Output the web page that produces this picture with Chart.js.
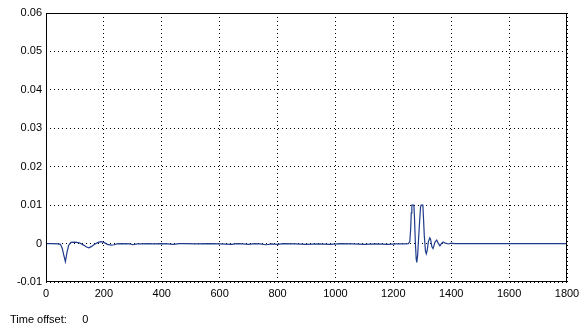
<!DOCTYPE html>
<html>
<head>
<meta charset="utf-8">
<script src="https://cdn.jsdelivr.net/npm/chart.js@4.4.0/dist/chart.umd.min.js"></script>
<style>
  body { margin: 0; background: #fff; }
  #wrap { position: relative; width: 587px; height: 328px; }
  #offset { position: absolute; left: 10px; top: 313px; font: 11px "Liberation Sans", Arial, sans-serif; color: #000; white-space: pre; }
</style>
</head>
<body>
<div id="wrap">
  <canvas id="scope" width="587" height="328"></canvas>
  <div id="offset">Time offset:     0</div>
</div>
<script>
// time axis (samples) and signal values
const timeVals = [0, 20, 40, 50, 56, 62, 67, 72, 78, 86, 100, 115, 130, 140, 148, 156, 168, 180, 190, 200,
    212, 225, 235, 245, 260, 290, 300, 315, 330, 350, 370, 400, 420, 440, 460, 480, 520, 560, 600, 640,
    660, 680, 700, 720, 740, 760, 780, 800, 820, 860, 900, 940, 980, 1020, 1060, 1100, 1140, 1180, 1210, 1240,
    1252, 1257, 1260, 1262, 1264, 1271, 1273, 1276, 1279, 1281, 1284, 1287, 1291, 1294, 1296, 1302, 1304, 1307, 1311, 1314, 1317, 1321,
    1326, 1329, 1333, 1337, 1340, 1344, 1350, 1355, 1361, 1366, 1372, 1380, 1390, 1400, 1410, 1800];
const signalVals = [0, 0, -0.0001, -0.0002, -0.0012, -0.0032, -0.0047, -0.0025, -0.0005, 0.0003, 0.0004, 0.0002, -0.0004, -0.0009, -0.0011, -0.0008, -0.0002, 0.0003, 0.0005, 0.0003,
    -0.0002, -0.0004, -0.0003, -0.0001, 0, -0.0001, -0.0003, -0.0001, -0.0001, 0, -0.0001, 0, -0.0001, -0.0002, 0, 0, -0.0001, 0, -0.0001, -0.0002,
    0, -0.0001, -0.0002, 0, -0.0001, -0.0003, -0.0001, -0.0002, 0, -0.0001, -0.0002, -0.0001, -0.0002, 0, -0.0001, -0.0002, -0.0001, -0.0002, -0.0001, -0.0001,
    0, 0.0005, 0.004, 0.008, 0.01, 0.01, 0.007, 0.0005, -0.004, -0.0049, -0.003, 0.001, 0.006, 0.0095, 0.01, 0.01, 0.007, 0.002, -0.002, -0.0027, -0.0018, 0.0005,
    0.0015, 0.001, -0.0008, -0.0013, -0.0006, 0.0004, 0.0009, 0.0001, -0.0006, 0, 0.0004, 0.0001, -0.0001, 0.0001, 0, 0];
const yTickLabels = ["-0.01", "0", "0.01", "0.02", "0.03", "0.04", "0.05", "0.06"];
const xTickLabels = ["0", "200", "400", "600", "800", "1000", "1200", "1400", "1600", "1800"];

const points = timeVals.map(function (t, i) {
    return { x: t, y: signalVals[i] };
});

// MATLAB-style box round the axes
const boxPlugin = {
    id: "box",
    afterDatasetsDraw(chart) {
        const a = chart.chartArea;
        const ctx = chart.ctx;
        ctx.save();
        ctx.strokeStyle = "#000";
        ctx.lineWidth = 1;
        ctx.strokeRect(Math.round(a.left) + 0.5, Math.round(a.top) + 0.5,
            Math.round(a.right - a.left) - 1, Math.round(a.bottom - a.top) - 1);
        ctx.restore();
    }
};

const tickFont = { family: "'Liberation Sans', Arial, sans-serif", size: 11 };

new Chart(document.getElementById("scope"), {
    type: "line",
    data: {
        datasets: [{
            data: points,
            borderColor: "#1f3c8c",
            borderWidth: 1.2,
            pointRadius: 0,
            tension: 0,
            fill: false
        }]
    },
    options: {
        responsive: false,
        animation: false,
        layout: { padding: { top: 13, right: 20, bottom: 0, left: 0 } },
        plugins: { legend: { display: false }, tooltip: { enabled: false } },
        scales: {
            x: {
                type: "linear",
                min: 0,
                max: 1800,
                afterFit: function (s) { s.height = 46; },
                ticks: {
                    stepSize: 200,
                    color: "#000",
                    font: tickFont,
                    padding: 5,
                    maxRotation: 0,
                    callback: function (v, i) { return xTickLabels[i]; }
                },
                grid: { color: "#000", lineWidth: 1, drawTicks: false },
                border: { display: false, dash: [1, 3] }
            },
            y: {
                min: -0.01,
                max: 0.06,
                afterFit: function (s) { s.width = 46; },
                ticks: {
                    stepSize: 0.01,
                    color: "#000",
                    font: tickFont,
                    padding: 4,
                    callback: function (v, i) { return yTickLabels[i]; }
                },
                grid: { color: "#000", lineWidth: 1, drawTicks: false },
                border: { display: false, dash: [1, 3] }
            }
        }
    },
    plugins: [boxPlugin]
});
</script>
</body>
</html>
